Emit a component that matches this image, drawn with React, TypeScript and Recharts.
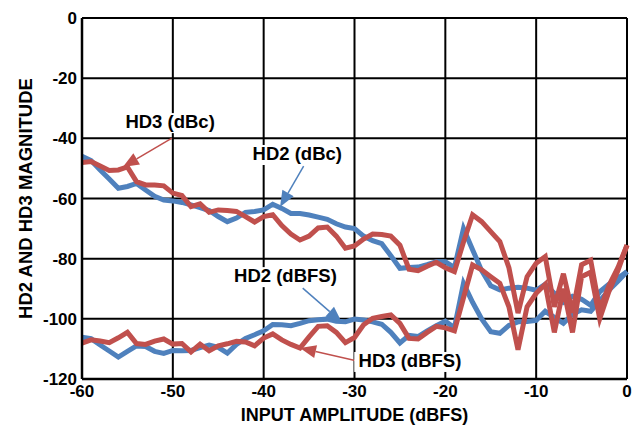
import React from 'react';
import { LineChart, Line, XAxis, YAxis, CartesianGrid, ReferenceLine, ReferenceDot } from 'recharts';

const amplitude = [
  -60, -59, -58, -57, -56, -55, -54, -53, -52, -51,
  -50, -49, -48, -47, -46, -45, -44, -43, -42, -41,
  -40, -39, -38, -37, -36, -35, -34, -33, -32, -31,
  -30, -29, -28, -27, -26, -25, -24, -23, -22, -21,
  -20, -19, -18, -17, -16, -15, -14, -13, -12, -11,
  -10, -9, -8, -7, -6, -5, -4, -3, -2, -1, 0,
];

const hd2dBc = [
  -46, -47.4, -50.5, -53.5, -56.6, -56, -55, -57.2, -59.3, -60.5,
  -60.8, -61.3, -62.1, -63, -64, -66, -67.7, -66.5, -64.6, -64.3,
  -63.8, -61.9, -63.3, -65, -65, -65.5, -66.2, -66.9, -68.4, -69.5,
  -70, -72.5, -74, -75, -79, -83.2, -82.9, -82.8, -82, -81,
  -81, -83, -70, -77, -84, -89, -90.4, -89.8, -89.5, -89.8,
  -90.5, -88.5, -91.5, -94.5, -92.5, -93.5, -95.5, -91, -88.5, -86.5, -84.3,
];

const hd2dBFS = [
  -106.1, -106.6, -108.7, -110.7, -112.7, -110.8, -109, -109.2, -110.8, -111.5,
  -110.5, -110.6, -110.5, -109.6, -108.7, -109.5, -111.4, -108.5, -106.5, -105.3,
  -104, -101.9, -102, -102.3, -101.5, -100.6, -100.3, -100.1, -100.8, -101,
  -100.1, -100.4, -101, -101.8, -104.5, -108, -105.5, -105.9, -104, -102.3,
  -100.8, -103, -88.2, -94.5, -100, -104.3, -104.8, -102.2, -101, -100.9,
  -100.5, -97.5, -99.5, -101.5, -98.5, -97, -97.5, -94, -90.5, -87.5, -84.3,
];

const hd3dBc = [
  -48, -47.7, -49.2, -50.7, -50.5, -49.5, -54.4, -55.5, -55.5, -55.8,
  -58.2, -59, -62.7, -61.8, -64.6, -63.8, -64, -64.3, -66, -67.8,
  -66, -65.4, -69, -71.8, -73.8, -72.5, -69.8, -69.5, -72.5, -76.5,
  -75.8, -73.5, -71.8, -72, -72.5, -75.5, -83.5, -84, -82.5, -81.2,
  -83, -84.3, -74.5, -65.4, -67.7, -71, -74.3, -83, -98.1, -86,
  -81.5, -79.3, -96, -85, -98, -82, -80.5, -97, -89, -83, -75.5,
];

const hd3dBFS = [
  -108.1, -107, -107.4, -107.9, -106.3, -104.5, -108.2, -108.5, -107.4, -106.7,
  -108.4, -108.2, -111, -108.4, -110.6, -109, -108.3, -107.5, -107.7, -109,
  -106.4, -105, -107, -108.5, -109.7, -106, -102.5, -102.3, -104.5, -107.9,
  -106.2, -102, -99.8, -99.2, -98.7, -101.5, -106.5, -106.7, -104.5, -102.5,
  -103, -104, -93, -82.1, -83.7, -86, -88.2, -96, -110.3, -96,
  -91.5, -88.5, -104.5, -90, -104.5, -86, -84.5, -100, -91, -84, -75.5,
];

const xTicks = [-60, -50, -40, -30, -20, -10, 0];
const yTicks = [-120, -100, -80, -60, -40, -20, 0];

const labelTexts = ['HD3 (dBc)', 'HD2 (dBc)', 'HD2 (dBFS)', 'HD3 (dBFS)'];
const labelX = [-50.3, -36.3, -37.6, -23.9];
const labelY = [-36.6, -47.2, -87.8, -116.0];

const arrowSeries = ['hd3', 'hd2', 'hd2', 'hd3'];
const arrowFromX = [-50.1, -35.6, -35.7, -29.7];
const arrowFromY = [-39.9, -49.2, -89.8, -114.0];
const arrowToX = [-55.5, -38.2, -31.4, -36.0];
const arrowToY = [-49.5, -62.8, -101.1, -109.7];

const BLUE = '#4F81BD';
const RED = '#C0504D';
const FONT = '"Liberation Sans", Arial, sans-serif';

const data = amplitude.map((a, i) => ({
  amp: a,
  hd2dBc: hd2dBc[i],
  hd2dBFS: hd2dBFS[i],
  hd3dBc: hd3dBc[i],
  hd3dBFS: hd3dBFS[i],
}));

const tickStyle = { fontFamily: FONT, fontWeight: 700, fontSize: 17, fill: '#000' };

const makeLabel = (text: string) => (props: any) => {
  const fs = 18.5;
  const w = text.length * fs * 0.58 + 4;
  return (
    <g>
      <rect x={props.cx - w / 2} y={props.cy - 15} width={w} height={20} fill="#fff" />
      <text
        x={props.cx}
        y={props.cy}
        textAnchor="middle"
        fontFamily={FONT}
        fontWeight={700}
        fontSize={fs}
        fill="#000"
      >
        {text}
      </text>
    </g>
  );
};

const makeArrow = (color: string) => (props: any) => {
  const { x1, y1, x2, y2 } = props;
  const dx = x2 - x1;
  const dy = y2 - y1;
  const len = Math.sqrt(dx * dx + dy * dy) || 1;
  const ux = dx / len;
  const uy = dy / len;
  const hl = 16;
  const hw = 6.5;
  const bx = x2 - ux * hl;
  const by = y2 - uy * hl;
  const px = -uy;
  const py = ux;
  return (
    <g>
      <line x1={x1} y1={y1} x2={bx} y2={by} stroke={color} strokeWidth={1.5} />
      <polygon
        points={`${x2},${y2} ${bx + px * hw},${by + py * hw} ${bx - px * hw},${by - py * hw}`}
        fill={color}
      />
    </g>
  );
};

export default function App() {
  return (
    <div style={{ position: 'absolute', left: 0, top: 0, width: 637, height: 430, background: '#fff' }}>
      <LineChart
        width={637}
        height={430}
        data={data}
        margin={{ top: 18, right: 10, bottom: 0, left: 0 }}
      >
        <CartesianGrid stroke="#000" strokeWidth={2} />
        <XAxis
          dataKey="amp"
          type="number"
          domain={[-60, 0]}
          ticks={xTicks}
          interval={0}
          height={51}
          tickSize={0}
          tickMargin={6}
          tickLine={false}
          axisLine={{ stroke: '#000', strokeWidth: 2.5 }}
          tick={tickStyle}
          label={{
            value: 'INPUT AMPLITUDE (dBFS)',
            position: 'insideBottom',
            offset: 9,
            style: { fontFamily: FONT, fontWeight: 700, fontSize: 18, fill: '#000' },
          }}
        />
        <YAxis
          type="number"
          domain={[-120, 0]}
          ticks={yTicks}
          interval={0}
          width={82}
          tickSize={0}
          tickMargin={5}
          tickLine={false}
          axisLine={{ stroke: '#000', strokeWidth: 2.5 }}
          tick={tickStyle}
          label={{
            value: 'HD2 AND HD3 MAGNITUDE',
            angle: -90,
            position: 'insideLeft',
            offset: 25,
            style: { fontFamily: FONT, fontWeight: 700, fontSize: 18.5, fill: '#000', textAnchor: 'middle' },
          }}
        />
        <Line type="linear" dataKey="hd2dBc" stroke={BLUE} strokeWidth={5} dot={false} isAnimationActive={false} />
        <Line type="linear" dataKey="hd2dBFS" stroke={BLUE} strokeWidth={5} dot={false} isAnimationActive={false} />
        <Line type="linear" dataKey="hd3dBc" stroke={RED} strokeWidth={5} dot={false} isAnimationActive={false} />
        <Line type="linear" dataKey="hd3dBFS" stroke={RED} strokeWidth={5} dot={false} isAnimationActive={false} />
        {arrowSeries.map((s, i) => (
          <ReferenceLine
            key={'a' + i}
            segment={[
              { x: arrowFromX[i], y: arrowFromY[i] },
              { x: arrowToX[i], y: arrowToY[i] },
            ]}
            shape={makeArrow(s === 'hd2' ? BLUE : RED)}
          />
        ))}
        {labelTexts.map((t, i) => (
          <ReferenceDot key={'l' + i} x={labelX[i]} y={labelY[i]} r={0} shape={makeLabel(t)} />
        ))}
      </LineChart>
    </div>
  );
}
